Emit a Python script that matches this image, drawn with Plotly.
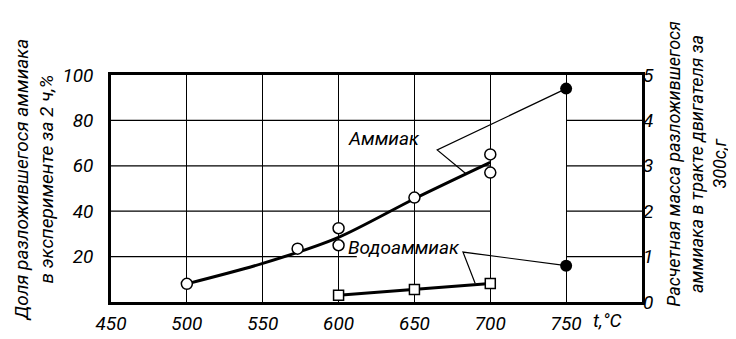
import plotly.graph_objects as go

# ---- data ----
ammonia_x = [500, 573, 600, 600, 650, 700, 700]
ammonia_y = [8, 23.5, 32.5, 25, 46, 65, 57]
ammonia_fit_x = [500, 550, 600, 650, 700]
ammonia_fit_y = [8, 17, 28.5, 45.5, 61.5]
water_x = [600, 650, 700]
water_y = [3, 5.5, 8.2]
calc_x = [750, 750]
calc_mass = [4.7, 0.8]

x_ticks = [450, 500, 550, 600, 650, 700, 750]
y_ticks = [20, 40, 60, 80, 100]
y2_ticks = [0, 1, 2, 3, 4, 5]

# label leader lines (data units, left axis)
amm_leader_x = [750, 665, 684]
amm_leader_y = [94, 67, 56.5]
wat_leader_x = [750, 682, 690]
wat_leader_y = [16, 22, 8.3]

# horizontal grid segments (broken between 700 and 750)
grid_y = [20, 40, 60, 80]
grid_segments = {20: [(450, 612), (750, 800)], 40: [(450, 700), (750, 800)],
                 60: [(450, 700), (750, 800)], 80: [(450, 700), (750, 800)]}

FONT = "Roboto, Liberation Sans, sans-serif"
font = dict(family=FONT, size=19, color="black", style="italic")
tfont = dict(family=FONT, size=19, color="black", style="italic")
rfont = dict(family=FONT, size=18, color="black", style="italic")


def itl(vals):
    return [f"<i>{v}</i>" for v in vals]


fig = go.Figure()

for yv in grid_y:
    for x0, x1 in grid_segments[yv]:
        fig.add_shape(type="line", x0=x0, x1=x1, y0=yv, y1=yv, xref="x", yref="y",
                      line=dict(color="black", width=1.3), layer="below")

fig.add_trace(go.Scatter(x=amm_leader_x, y=amm_leader_y, mode="lines",
                         line=dict(color="black", width=1.2), hoverinfo="skip"))
fig.add_trace(go.Scatter(x=wat_leader_x, y=wat_leader_y, mode="lines",
                         line=dict(color="black", width=1.2), hoverinfo="skip"))

fig.add_trace(go.Scatter(x=ammonia_fit_x, y=ammonia_fit_y, mode="lines",
                         line=dict(color="black", width=3, shape="spline", smoothing=0.8)))
fig.add_trace(go.Scatter(x=ammonia_x, y=ammonia_y, mode="markers",
                         marker=dict(symbol="circle", size=11, color="white",
                                     line=dict(color="black", width=1.5))))
fig.add_trace(go.Scatter(x=water_x, y=water_y, mode="lines+markers",
                         line=dict(color="black", width=3),
                         marker=dict(symbol="square", size=10, color="white",
                                     line=dict(color="black", width=1.5))))
fig.add_trace(go.Scatter(x=calc_x, y=calc_mass, yaxis="y2", mode="markers",
                         marker=dict(symbol="circle", size=12, color="black")))

fig.add_annotation(x=630, y=72, xref="x", yref="y", text="Аммиак", showarrow=False,
                   font=font)
fig.add_annotation(x=643, y=24, xref="x", yref="y", text="Водоаммиак", showarrow=False,
                   font=font)
fig.add_annotation(x=777, y=-0.02, xref="x", yref="paper", text="t,°C", showarrow=False,
                   font=tfont, yanchor="top")
fig.add_annotation(x=-0.145, y=0.535, xref="paper", yref="paper", textangle=-90,
                   xanchor="center", yanchor="middle",
                   text="Доля разложившегося аммиака<br>в эксперименте за 2 ч,%",
                   showarrow=False, font=font)
fig.add_annotation(x=1.102, y=0.61, xref="paper", yref="paper", textangle=-90,
                   xanchor="center", yanchor="middle",
                   text="Расчетная масса разложившегося<br>аммиака в тракте двигателя за<br>300с,г",
                   showarrow=False, font=rfont)

fig.update_layout(
    width=736, height=339,
    margin=dict(l=103, r=102, t=67, b=27),
    paper_bgcolor="white", plot_bgcolor="white",
    showlegend=False,
    xaxis=dict(range=[450, 800], tickvals=x_ticks, ticktext=itl(x_ticks), showgrid=True,
               gridcolor="black", gridwidth=1.3, zeroline=False, showline=True,
               linecolor="black", linewidth=2.5, mirror=True, ticks="", tickfont=tfont,
               ticklabelstandoff=2),
    yaxis=dict(range=[0, 100], tickvals=y_ticks, ticktext=itl(y_ticks), showgrid=False,
               zeroline=False, showline=True, linecolor="black", linewidth=2.5, mirror=True,
               ticks="", tickfont=tfont, ticklabelstandoff=11),
    yaxis2=dict(range=[0, 5], tickvals=y2_ticks, ticktext=itl(y2_ticks), overlaying="y",
                side="right", showgrid=False, zeroline=False, showline=False, ticks="",
                tickfont=tfont, ticklabelstandoff=0),
)

fig.write_html("out.html")
